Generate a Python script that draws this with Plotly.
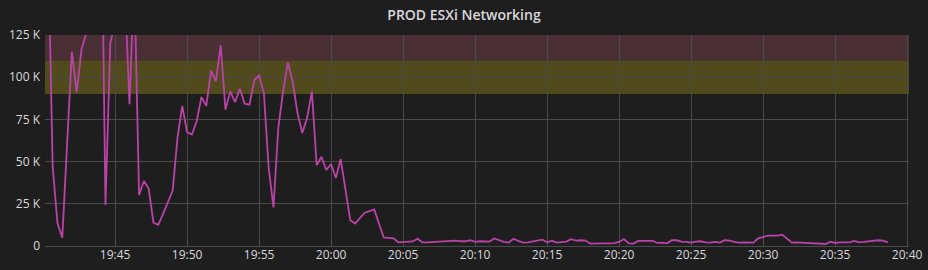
import pandas as pd
import plotly.graph_objects as go

# ---- data ----
title = "PROD ESXi Networking"
start_time = "2024-01-01 19:40:20"
interval_s = 20
range_start = "2024-01-01 19:40:08"
range_end = "2024-01-01 20:40:08"

values_k = [
    185, 47, 13.4, 4.9, 60, 115, 91, 116.5, 126, 150,
    180, 240, 24.3, 120, 135, 145, 154, 84, 160, 30.2,
    38.5, 34, 13.8, 12.5, 19, 26, 32.8, 64, 83, 67.5,
    66, 73.9, 88.3, 83, 103.9, 97.5, 118.9, 80.8, 91.6, 85.3,
    93.2, 84.3, 83.7, 98.2, 101, 90.6, 46.2, 22.9, 69.9, 91.6,
    108.8, 97.5, 78.8, 66.9, 75.8, 91.6, 47.8, 52.9, 45, 48.6,
    40.3, 51.5, 33, 15.2, 13.3, 16.5, 19.7, 20.7, 21.7, 13,
    4.9, 4.8, 4.5, 2.2, 2.5, 2.8, 2.7, 4.3, 2.2, 2.2,
    2.4, 2.6, 2.6, 2.8, 2.8, 3.2, 2.8, 2.8, 3.4, 2.4,
    2.8, 2.7, 2.6, 4.5, 3.6, 2.4, 2.0, 4.3, 3.0, 2.0,
    2.2, 2.6, 3.0, 3.8, 2.2, 3.2, 2.0, 2.2, 2.6, 4.0,
    3.2, 3.4, 3.2, 1.4, 1.6, 1.6, 1.6, 1.6, 1.7, 2.4,
    4.1, 1.6, 1.4, 3.0, 3.0, 2.8, 3.0, 1.8, 2.0, 1.6,
    3.4, 3.4, 2.6, 2.4, 2.0, 2.6, 2.8, 2.2, 2.0, 2.4,
    2.0, 3.4, 3.2, 2.4, 2.0, 2.2, 2.0, 2.0, 4.5, 5.5,
    6.1, 6.1, 6.1, 6.7, 4.3, 2.0, 2.2, 2.0, 1.8, 2.0,
    1.6, 1.2, 1.2, 2.6, 1.8, 2.2, 2.4, 2.2, 3.0, 2.2,
    2.4, 2.8, 3.4, 3.4, 3.2, 2.2,
]

y_tickvals = [0, 25000, 50000, 75000, 100000, 125000]
y_ticktext = ["0", "25 K", "50 K", "75 K", "100 K", "125 K"]
warning_band = (90000, 110000)
critical_band = (110000, 125000)

times = pd.date_range(start=start_time, periods=len(values_k), freq=f"{interval_s}s")
values = [v * 1000 for v in values_k]

# ---- styling ----
bg = "#1f1e1f"
grid = "#4a4a4a"
text_col = "#d8d9da"
line_col = "#ba43a9"
font_family = "Open Sans"

fig = go.Figure()
fig.add_trace(go.Scatter(
    x=times, y=values, mode="lines",
    line=dict(color=line_col, width=1.8),
    hoverinfo="skip", showlegend=False, cliponaxis=True,
))

fig.add_shape(type="rect", xref="paper", x0=0, x1=1, yref="y",
              y0=warning_band[0], y1=warning_band[1],
              fillcolor="#514a1d", line=dict(width=0), layer="below")
fig.add_shape(type="rect", xref="paper", x0=0, x1=1, yref="y",
              y0=critical_band[0], y1=critical_band[1],
              fillcolor="#4a3034", line=dict(width=0), layer="below")

fig.update_layout(
    width=928, height=270,
    paper_bgcolor=bg, plot_bgcolor=bg,
    margin=dict(l=45, r=19, t=35, b=24, autoexpand=False),
    title=dict(text=title, x=0.5, xanchor="center", y=1 - 15 / 270, yanchor="middle",
               font=dict(family=font_family, size=14, color=text_col, weight=600)),
    font=dict(family=font_family, size=12, color=text_col),
    xaxis=dict(
        type="date", range=[range_start, range_end], automargin=False,
        tickformat="%H:%M", dtick=300000, tick0="2024-01-01 19:45:00",
        showgrid=True, gridcolor=grid, gridwidth=1,
        showline=False, zeroline=False, ticks="",
        tickfont=dict(size=12, color=text_col),
    ),
    yaxis=dict(
        range=[0, 125000], tickvals=y_tickvals, ticktext=y_ticktext, automargin=False,
        showgrid=True, gridcolor=grid, gridwidth=1,
        zeroline=True, zerolinecolor=grid, zerolinewidth=1,
        showline=False, ticks="", ticklabelstandoff=4,
        tickfont=dict(size=12, color=text_col),
    ),
)

fig.write_html("out.html")
